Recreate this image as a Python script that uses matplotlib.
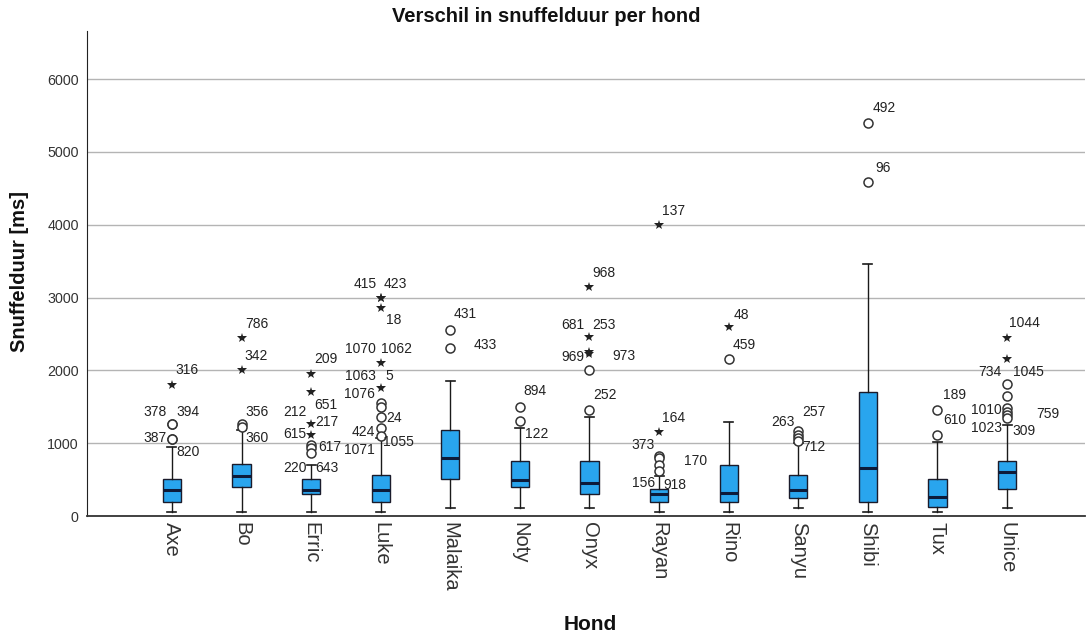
import matplotlib
matplotlib.use('Agg')
import matplotlib.pyplot as plt

plt.rcParams['font.family'] = ['Liberation Sans', 'DejaVu Sans']

# ---------------- data ----------------
dogs = ['Axe', 'Bo', 'Erric', 'Luke', 'Malaika', 'Noty', 'Onyx', 'Rayan',
        'Rino', 'Sanyu', 'Shibi', 'Tux', 'Unice']
q1 = [197, 394, 302, 197, 504, 394, 302, 197, 197, 252, 197, 128, 367]
medians = [357, 554, 357, 357, 792, 495, 458, 302, 311, 357, 664, 265, 609]
q3 = [504, 710, 504, 563, 1181, 760, 760, 367, 700, 563, 1699, 504, 760]
whisker_low = [60, 60, 60, 60, 114, 114, 114, 50, 50, 114, 50, 50, 114]
whisker_high = [952, 1180, 700, 1070, 1854, 1209, 1355, 549, 1296, 998, 3457, 1012, 1250]

# outliers: 'o' = outlier, '*' = extreme
out_dog = ['Axe', 'Axe', 'Axe', 'Axe', 'Axe',
           'Bo', 'Bo', 'Bo', 'Bo',
           'Erric', 'Erric', 'Erric', 'Erric', 'Erric', 'Erric', 'Erric',
           'Luke', 'Luke', 'Luke', 'Luke', 'Luke', 'Luke', 'Luke', 'Luke', 'Luke', 'Luke',
           'Malaika', 'Malaika',
           'Noty', 'Noty',
           'Onyx', 'Onyx', 'Onyx', 'Onyx', 'Onyx', 'Onyx',
           'Rayan', 'Rayan', 'Rayan', 'Rayan', 'Rayan', 'Rayan',
           'Rino', 'Rino',
           'Sanyu', 'Sanyu', 'Sanyu', 'Sanyu',
           'Shibi', 'Shibi',
           'Tux', 'Tux',
           'Unice', 'Unice', 'Unice', 'Unice', 'Unice', 'Unice', 'Unice', 'Unice']
out_val = [1259, 1259, 1053, 1053, 1804,
           2449, 2005, 1263, 1217,
           1946, 1708, 1260, 1113, 975, 935, 870,
           2999, 2999, 2853, 2106, 1754, 1556, 1501, 1364, 1213, 1103,
           2555, 2303,
           1502, 1305,
           3150, 2454, 2257, 2221, 2005, 1456,
           3997, 1158, 824, 792, 700, 622,
           2601, 2152,
           1168, 1113, 1067, 1035,
           5394, 4592,
           1456, 1113,
           2449, 2152, 1809, 1653, 1479, 1433, 1387, 1342]
out_kind = ['o', 'o', 'o', 'o', '*',
            '*', '*', 'o', 'o',
            '*', '*', '*', '*', 'o', 'o', 'o',
            '*', '*', '*', '*', '*', 'o', 'o', 'o', 'o', 'o',
            'o', 'o',
            'o', 'o',
            '*', '*', '*', '*', 'o', 'o',
            '*', '*', 'o', 'o', 'o', 'o',
            '*', 'o',
            'o', 'o', 'o', 'o',
            'o', 'o',
            'o', 'o',
            '*', '*', 'o', 'o', 'o', 'o', 'o', 'o']

# case-number labels (dog, value of point, case id)
lab_dog = ['Axe'] * 5 + ['Bo'] * 4 + ['Erric'] * 8 + ['Luke'] * 12 + ['Malaika'] * 2 + \
          ['Noty'] * 2 + ['Onyx'] * 6 + ['Rayan'] * 6 + ['Rino'] * 2 + ['Sanyu'] * 3 + \
          ['Shibi'] * 2 + ['Tux'] * 2 + ['Unice'] * 7
lab_val = [1259, 1259, 1053, 1053, 1804,
           2449, 2005, 1263, 1217,
           1946, 1708, 1260, 1260, 1113, 935, 870, 870,
           2999, 2999, 2853, 2106, 2106, 1754, 1754, 1556, 1364, 1213, 1103, 1103,
           2555, 2303,
           1502, 1305,
           3150, 2454, 2454, 2221, 2221, 1456,
           3997, 1158, 824, 792, 622, 622,
           2601, 2152,
           1168, 1168, 1035,
           5394, 4592,
           1456, 1113,
           2449, 2152, 2152, 1479, 1342, 1342, 1387]
lab_text = ['378', '394', '387', '820', '316',
            '786', '342', '356', '360',
            '209', '651', '212', '217', '615', '617', '220', '643',
            '415', '423', '18', '1070', '1062', '1063', '5', '1076', '24', '424', '1055', '1071',
            '431', '433',
            '894', '122',
            '968', '681', '253', '969', '973', '252',
            '137', '164', '373', '170', '156', '918',
            '48', '459',
            '263', '257', '712',
            '492', '96',
            '189', '610',
            '1044', '734', '1045', '1010', '1023', '309', '759']
# label offsets from the point (pixels; layout only)
lab_dx = [-17, 16, -17, 16, 15,
          15, 15, 16, 16,
          15, 15, -16, 16, -16, 19, -16, 16,
          -16, 15, 13, -20, 16, -20, 9, -21, 13, -17, 18, -21,
          15, 35,
          15, 17,
          14, -17, 14, -17, 34, 16,
          14, 14, -16, 36, -16, 16,
          13, 16,
          -15, 16, 16,
          16, 15,
          17, 17,
          17, -17, 21, -21, -21, 17, 41]
lab_dy = [12, 12, 1, -13, 15,
          14, 14, 12, -11,
          15, -13, 12, 2, 1, 1, -15, -15,
          14, 14, -12, 14, 14, 12, 12, 9, -1, -4, -6, -14,
          16, 3,
          16, -13,
          14, 12, 12, -3, -2, 15,
          14, 14, 11, -3, -12, -14,
          12, 14,
          9, 19, -6,
          15, 14,
          15, 15,
          15, -13, -13, -2, -10, -13, 1]

title = 'Verschil in snuffelduur per hond'
ylabel = 'Snuffelduur [ms]'
xlabel = 'Hond'
yticks = [0, 1000, 2000, 3000, 4000, 5000, 6000]

# ---------------- plot ----------------
W, H = 1091, 638
fig = plt.figure(figsize=(W / 100, H / 100), dpi=100)
ax = fig.add_axes([87 / W, 1 - 516 / H, (1085 - 87) / W, (516 - 31) / H])

positions = list(range(len(dogs)))
stats = []
for i, d in enumerate(dogs):
    stats.append(dict(label=d, q1=q1[i], med=medians[i], q3=q3[i],
                      whislo=whisker_low[i], whishi=whisker_high[i], fliers=[]))

box_color = '#29a5ee'
ax.bxp(stats, positions=positions, widths=0.26, capwidths=0.13,
       patch_artist=True, showfliers=False,
       boxprops=dict(facecolor=box_color, edgecolor='#1b1b2b', linewidth=1.0),
       medianprops=dict(color='#0d1b3a', linewidth=2.2),
       whiskerprops=dict(color='#1a1a1a', linewidth=1.0),
       capprops=dict(color='#1a1a1a', linewidth=1.2),
       zorder=3)

idx = {d: i for i, d in enumerate(dogs)}
ox = [idx[d] for d, k in zip(out_dog, out_kind) if k == 'o']
oy = [v for v, k in zip(out_val, out_kind) if k == 'o']
sx = [idx[d] for d, k in zip(out_dog, out_kind) if k == '*']
sy = [v for v, k in zip(out_val, out_kind) if k == '*']
ax.plot(ox, oy, ls='none', marker='o', ms=6.5, mfc='white', mec='#333333',
        mew=1.1, zorder=4)
ax.plot(sx, sy, ls='none', marker='*', ms=7, color='#222222', mew=0, zorder=4)

for d, v, t, dx, dy in zip(lab_dog, lab_val, lab_text, lab_dx, lab_dy):
    ax.annotate(t, (idx[d], v), xytext=(dx, dy), textcoords='offset pixels',
                ha='center', va='center', fontsize=10, color='#222222', zorder=5)

ax.set_xlim(-1.22, 13.12)
ax.set_ylim(0, 6660)
ax.set_yticks(yticks)
ax.set_yticklabels([str(t) for t in yticks], fontsize=10.3, color='#333333')
ax.set_xticks(positions)
ax.set_xticklabels(dogs, rotation=-90, fontsize=14.5, color='#333333',
                   ha='center', va='top')
ax.tick_params(axis='both', length=0)
ax.tick_params(axis='y', pad=6)
ax.tick_params(axis='x', pad=4)
ax.yaxis.grid(True, color='#b4b4b4', linewidth=1.0, zorder=0)
ax.set_axisbelow(True)
for s in ['top', 'right']:
    ax.spines[s].set_visible(False)
ax.spines['left'].set_color('#222222')
ax.spines['bottom'].set_color('#333333')
ax.spines['bottom'].set_linewidth(1.3)

fig.text(546 / W, 1 - 17 / H, title, ha='center', va='center',
         fontsize=14.5, fontweight='bold', color='#111111')
fig.text(20 / W, 1 - 271 / H, ylabel, ha='center', va='center', rotation=90,
         fontsize=14.5, fontweight='bold', color='#111111')
fig.text(590 / W, 1 - 625 / H, xlabel, ha='center', va='center',
         fontsize=15, fontweight='bold', color='#111111')

fig.savefig('out.png', dpi=100)
